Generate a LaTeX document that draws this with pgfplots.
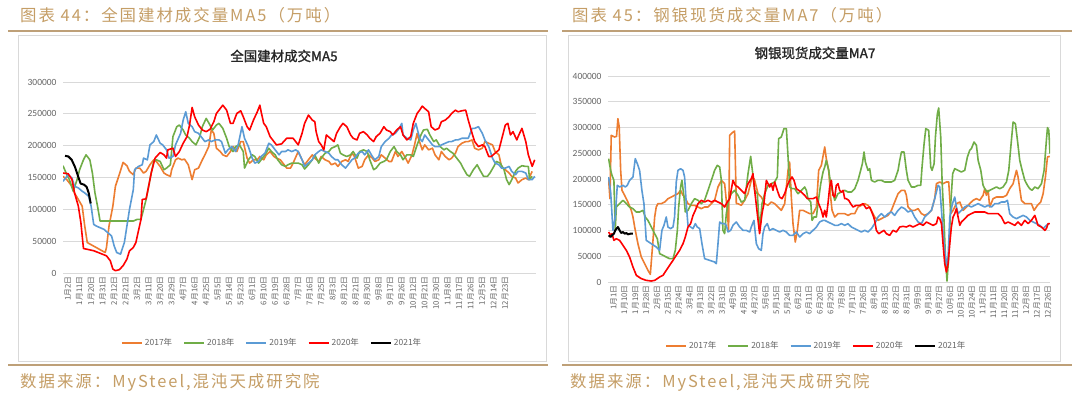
\documentclass[border=0pt]{standalone}
\usepackage{pgfplots}
\pgfplotsset{compat=1.18}
\usepackage{fontspec}
\setmainfont{Carlito}
\newfontfamily\cjk{Noto Sans CJK SC}
\newfontfamily\cjkhdr{Noto Sans CJK SC}[LetterSpace=12]
\newfontfamily\cjkb{Noto Sans CJK SC}[FakeBold=1.5]
\definecolor{c17}{RGB}{237,125,49}
\definecolor{c18}{RGB}{112,173,71}
\definecolor{c19}{RGB}{91,155,213}
\definecolor{c20}{RGB}{255,0,0}
\definecolor{gridc}{RGB}{217,217,217}
\definecolor{tickc}{RGB}{100,100,100}
\definecolor{hdr}{RGB}{197,158,102}
\definecolor{rulec}{RGB}{190,160,120}
\pgfplotsset{
 mychart/.style={
  scale only axis, anchor=south west,
  axis line style={draw=none}, tick style={draw=none},
  ymajorgrids, grid style={gridc, line width=0.9bp},
  xmajorgrids=false,
  scaled y ticks=false,
  /pgf/number format/assume math mode=true,
  y tick label style={font=\fontsize{9.5}{10}\selectfont, text=tickc, /pgf/number format/1000 sep={}, /pgf/number format/fixed, xshift=-3bp},
  x tick label style={font=\cjk\fontsize{7.8}{8}\selectfont, text=tickc, rotate=90, anchor=east, yshift=-5bp},
  every axis plot/.append style={line width=1.6bp, line join=round, mark=none},
  legend style={draw=none, fill=none, font=\cjk\fontsize{8.5}{9}\selectfont, text=tickc, legend columns=5, anchor=center, /tikz/every even column/.append style={column sep=9bp}},
  legend image code/.code={\draw[#1, line width=2bp] (0bp,0bp) -- (20bp,0bp);},
 }
}
\begin{document}
\begin{tikzpicture}
\useasboundingbox (0bp,0bp) rectangle (1080bp,394bp);
\fill[white] (0bp,0bp) rectangle (1080bp,394bp);
% headers
\node[anchor=west, text=hdr, inner sep=0pt, font=\cjkhdr\fontsize{16.5}{17}\selectfont] at (20bp,379bp) {图表 44：全国建材成交量MA5（万吨）};
\node[anchor=west, text=hdr, inner sep=0pt, font=\cjkhdr\fontsize{16.5}{17}\selectfont] at (572bp,379bp) {图表 45：钢银现货成交量MA7（万吨）};
\node[anchor=west, text=hdr, inner sep=0pt, font=\cjkhdr\fontsize{16.5}{17}\selectfont] at (20bp,12bp) {数据来源：MySteel,混沌天成研究院};
\node[anchor=west, text=hdr, inner sep=0pt, font=\cjkhdr\fontsize{16.5}{17}\selectfont] at (570bp,12bp) {数据来源：MySteel,混沌天成研究院};
\draw[rulec, line width=1.2bp] (8bp,363bp) -- (548bp,363bp);
\draw[rulec, line width=1.2bp] (562bp,363bp) -- (1072bp,363bp);
\draw[rulec, line width=1.2bp] (8bp,29bp) -- (548bp,29bp);
\draw[rulec, line width=1.2bp] (562bp,29bp) -- (1072bp,29bp);
\draw[gridc, line width=0.8bp] (18bp,359bp) rectangle (546bp,33bp);
\draw[gridc, line width=0.8bp] (568bp,359bp) rectangle (1060bp,33bp);
\node[font=\cjkb\fontsize{13.5}{14}\selectfont, text={rgb,255:red,38;green,38;blue,38}] at (284bp,338bp) {全国建材成交MA5};
\node[font=\cjkb\fontsize{13.5}{14}\selectfont, text={rgb,255:red,38;green,38;blue,38}] at (815bp,341bp) {钢银现货成交量MA7};

% LEFT CHART
\begin{axis}[mychart, at={(63bp,121bp)}, width=473bp, height=191bp,
 xmin=0, xmax=370, ymin=0, ymax=300000,
 ytick={0,50000,100000,150000,200000,250000,300000},
 xtick={0,9,18,27,36,45,54,63,72,81,90,99,108,117,126,135,144,153,162,171,180,189,198,207,216,225,234,243,252,261,270,279,288,297,306,315,324,333,342},
 xticklabels={1月2日,1月11日,1月20日,1月31日,2月12日,2月21日,3月2日,3月11日,3月20日,3月29日,4月7日,4月16日,4月25日,5月5日,5月14日,5月23日,6月1日,6月10日,6月19日,6月28日,7月7日,7月16日,7月25日,8月3日,8月12日,8月21日,8月30日,9月8日,9月17日,9月26日,10月12日,10月21日,10月30日,11月8日,11月17日,11月26日,12月5日,12月14日,12月23日},
 legend style={at={(0.442,-0.366)}},
]
\addplot[c17] coordinates {(0,151800)(3,146600)(7,136200)(9,125800)(12,115400)(15,105000)(17,73800)(19,47800)(33,32200)(34,40000)(36,73800)(39,105000)(41,136200)(44,154400)(47,173700)(50,168500)(52,159600)(55,154400)(57,164800)(60,164800)(63,157000)(65,159600)(68,170000)(71,177800)(73,175200)(76,167400)(79,157000)(81,154400)(84,151800)(85,162200)(88,177800)(90,180400)(93,177800)(95,178900)(98,170000)(101,146600)(103,162200)(106,164800)(109,177800)(111,185600)(114,198600)(116,224600)(118,219400)(120,196000)(123,190800)(125,185600)(128,183000)(131,190800)(133,198600)(136,190800)(139,206400)(141,206400)(144,180400)(146,172600)(149,177800)(152,177800)(154,183000)(157,177800)(159,185600)(162,190800)(165,183000)(167,180400)(170,177800)(172,172600)(175,164800)(178,164800)(180,172600)(184,190800)(187,177800)(189,170000)(192,177800)(195,185600)(197,180400)(200,175200)(202,183000)(205,177800)(208,175200)(210,170000)(213,172600)(215,167400)(218,175200)(221,177800)(223,175200)(226,188200)(228,183000)(231,164800)(234,167400)(236,177800)(239,185600)(242,180400)(244,175200)(247,177800)(249,185600)(252,180400)(255,175200)(257,175200)(260,190800)(262,183000)(265,190800)(268,180400)(270,172600)(273,185600)(275,201200)(277,219400)(278,211600)(281,193400)(283,201200)(286,193400)(289,196000)(291,185600)(294,177800)(296,190800)(299,183000)(302,177800)(304,180400)(307,188200)(309,198600)(312,203800)(315,206400)(317,206400)(320,209000)(322,196000)(325,193400)(328,196000)(330,206400)(333,203800)(336,201200)(338,190800)(341,185600)(343,167400)(346,162200)(349,157000)(351,151800)(354,149200)(356,141400)(359,146600)(362,149200)(364,146600)(367,159600)};
\addlegendentry{2017年}
\addplot[c18] coordinates {(0,168500)(3,154400)(5,146600)(8,128400)(11,146600)(13,162200)(16,177800)(18,185600)(21,177800)(23,157000)(25,125800)(27,105000)(29,81600)(55,81600)(58,84200)(61,84200)(63,99800)(65,115400)(67,136200)(69,157000)(71,175200)(73,177800)(76,175200)(79,162200)(81,164800)(84,170000)(86,214200)(89,229800)(91,232400)(94,224600)(96,216800)(99,211600)(101,206400)(104,201200)(107,214200)(109,229800)(112,242800)(115,232400)(117,224600)(120,232400)(122,235000)(125,227200)(128,211600)(130,198600)(133,190800)(135,198600)(138,201200)(141,190800)(142,164800)(145,177800)(148,185600)(150,183000)(153,172600)(155,177800)(158,185600)(161,196000)(163,190800)(166,185600)(168,177800)(171,170000)(174,167400)(176,170000)(179,172600)(184,172600)(187,170000)(189,163300)(192,170000)(195,177800)(197,185600)(200,172600)(202,180400)(205,188200)(208,190800)(210,196000)(213,198600)(215,201200)(217,188200)(219,185600)(222,183000)(225,185600)(227,190800)(230,180400)(232,190800)(235,193400)(238,190800)(240,177800)(243,162200)(245,164800)(248,172600)(251,175200)(253,177800)(256,190800)(259,198600)(261,190800)(264,185600)(266,177800)(269,185600)(272,185600)(274,183000)(277,201200)(280,216800)(282,224600)(285,225700)(287,216800)(290,206400)(292,209000)(295,198600)(298,193400)(300,196000)(303,190800)(305,188200)(308,180400)(311,172600)(313,164800)(316,154400)(318,151800)(321,162200)(324,170000)(326,162200)(329,151800)(332,151800)(334,157000)(337,167400)(339,175200)(342,172600)(345,162200)(347,146600)(349,138800)(351,146600)(354,159600)(356,164800)(359,168500)(362,167400)(364,167400)(365,146600)(367,151800)};
\addlegendentry{2018年}
\addplot[c19] coordinates {(0,144000)(2,149200)(4,154400)(7,149200)(9,136200)(12,133600)(15,128400)(17,125800)(20,120600)(22,105000)(24,76400)(26,73800)(32,68600)(38,58200)(40,42600)(42,32200)(45,29600)(48,47800)(50,73800)(52,99800)(55,131000)(56,162200)(59,167400)(62,170000)(63,180400)(66,177800)(68,201200)(71,206400)(73,216800)(76,203800)(78,201200)(81,193400)(83,180400)(86,183000)(88,201200)(92,219400)(94,240200)(96,253200)(98,235000)(101,229800)(103,222000)(106,219400)(109,211600)(111,206400)(114,209000)(116,206400)(119,209000)(122,209000)(124,206400)(127,188200)(129,193400)(132,198600)(135,190800)(137,201200)(140,229800)(142,211600)(145,198600)(148,180400)(150,172600)(153,175200)(155,183000)(158,188200)(161,203800)(163,201200)(166,193400)(169,185600)(171,190800)(174,190800)(176,193400)(179,190800)(182,193400)(184,190800)(187,177800)(189,167400)(192,172600)(195,177800)(197,185600)(200,190800)(202,193400)(205,190800)(208,188200)(210,183000)(213,177800)(215,177800)(218,170000)(221,164800)(223,170000)(226,177800)(228,180400)(231,188200)(234,190800)(236,185600)(239,193400)(242,183000)(244,177800)(247,183000)(249,198600)(252,206400)(255,211600)(257,216800)(260,219400)(263,227200)(265,235000)(266,216800)(269,211600)(272,209000)(274,224600)(276,235000)(279,211600)(281,206400)(283,216800)(286,209000)(289,201200)(291,198600)(294,198600)(296,201200)(299,203800)(302,206400)(304,206400)(307,209000)(309,209000)(312,211600)(315,211600)(317,211600)(320,227200)(322,227200)(325,229800)(328,219400)(330,209000)(333,198600)(336,180400)(338,172600)(341,170000)(343,164800)(346,164800)(349,167400)(351,159600)(354,154400)(356,159600)(359,159600)(362,157000)(364,146600)(367,146600)(369,151800)};
\addlegendentry{2019年}
\addplot[c20] coordinates {(0,157000)(4,156000)(7,147000)(9,126000)(12,105000)(14,79000)(16,38500)(24,35000)(34,27000)(37,19200)(39,6200)(41,3600)(44,5200)(47,11400)(50,21800)(52,34800)(55,40000)(57,47800)(59,66000)(61,84200)(62,115400)(65,116500)(67,136200)(69,157000)(72,180400)(76,189300)(79,185600)(81,180400)(82,193400)(86,196000)(88,183000)(91,190800)(94,203800)(97,214200)(99,232400)(101,260000)(103,245400)(106,232400)(109,224600)(112,222000)(115,225700)(118,237600)(120,250600)(123,258400)(125,263600)(128,255800)(131,235000)(133,235000)(136,250600)(139,254800)(141,245400)(144,229800)(146,224600)(149,240200)(152,253200)(154,263600)(155,253200)(157,235000)(159,229800)(162,214200)(165,206400)(167,201200)(171,202800)(175,211600)(180,211600)(184,201200)(187,219400)(189,235000)(192,248000)(195,240200)(197,237600)(198,222000)(200,206400)(202,201200)(204,193400)(206,216800)(209,211600)(212,206400)(214,219400)(217,229800)(219,235000)(222,229800)(225,216800)(227,211600)(230,209000)(232,219400)(235,222000)(238,216800)(240,211600)(243,206400)(245,214200)(248,219400)(251,229800)(253,224600)(256,222000)(258,216800)(261,224600)(264,229800)(266,216800)(269,209000)(272,214200)(274,235000)(277,250600)(279,255800)(281,262100)(283,258400)(286,253200)(288,229800)(291,224600)(294,227200)(296,237600)(299,240200)(302,245400)(304,250600)(307,255800)(309,253200)(312,254800)(315,255800)(317,240200)(320,219400)(322,206400)(325,198600)(328,201200)(330,198600)(333,183000)(335,183000)(338,188200)(341,193400)(343,209000)(346,232400)(348,235000)(350,216800)(352,222000)(355,209000)(356,214200)(359,227200)(362,206400)(364,185600)(367,167400)(369,177800)};
\addlegendentry{2020年}
\addplot[black, line width=2bp] coordinates {(1.6,184100)(4.2,183000)(6.8,177800)(9.4,166400)(12.0,150800)(13.8,140400)(16.4,138800)(18.5,135200)(20.1,125800)(21.7,109200)};
\addlegendentry{2021年}
\end{axis}

% RIGHT CHART
\begin{axis}[mychart, at={(608bp,112bp)}, width=442bp, height=206bp,
 xmin=-0.5, xmax=366, ymin=0, ymax=400000,
 ytick={0,50000,100000,150000,200000,250000,300000,350000,400000},
 xtick={0,9,18,27,36,45,54,63,72,81,90,99,108,117,126,135,144,153,162,171,180,189,198,207,216,225,234,243,252,261,270,279,288,297,306,315,324,333,342,351,360},
 xticklabels={1月1日,1月10日,1月19日,1月28日,2月6日,2月15日,2月24日,3月4日,3月13日,3月22日,3月31日,4月9日,4月18日,4月27日,5月6日,5月15日,5月24日,6月2日,6月11日,6月20日,6月29日,7月8日,7月17日,7月26日,8月4日,8月13日,8月22日,8月31日,9月9日,9月18日,9月27日,10月6日,10月15日,10月24日,11月2日,11月11日,11月20日,11月29日,12月8日,12月17日,12月26日},
 legend style={at={(0.471,-0.311)}},
]
\addplot[c17] coordinates {(0.0,200600)(1.1,161800)(2.2,284800)(5.0,281500)(6.6,282800)(7.7,317100)(8.8,301000)(10.0,216800)(11.1,178000)(13.3,168300)(16.0,155300)(18.8,139100)(20.2,126200)(21.6,106800)(24.3,74400)(27.1,48500)(29.9,35600)(32.6,22700)(34.6,14900)(36.8,80900)(38.2,126200)(39.5,145600)(40.9,152100)(43.7,152100)(46.5,155300)(49.2,161800)(52.0,165000)(54.7,168300)(57.5,171500)(59.7,178000)(61.7,168300)(63.0,165000)(65.8,152100)(68.6,148900)(71.3,148900)(74.1,145600)(76.9,142400)(79.6,145600)(82.4,145600)(85.2,152100)(87.9,158600)(90.7,184500)(93.5,197400)(96.2,190900)(98.4,139100)(99.5,100300)(100.4,284800)(102.6,290000)(104.5,293200)(105.9,152100)(107.3,152100)(110.0,148900)(112.8,158600)(115.6,171500)(118.3,197400)(119.7,203900)(121.1,197400)(123.9,171500)(126.6,165000)(129.4,152100)(132.2,148900)(134.9,155300)(137.7,152100)(140.5,145600)(143.2,139100)(146.0,152100)(147.4,184500)(148.8,216800)(150.1,233000)(151.5,165000)(152.9,113300)(154.8,77700)(156.5,100300)(158.4,139100)(161.2,139100)(164.0,135900)(166.7,132700)(169.5,132700)(172.3,145600)(174.2,216800)(176.4,226500)(179.2,262100)(180.5,239500)(182.5,216800)(184.1,165000)(185.3,139100)(187.5,126200)(190.2,132700)(193.0,132700)(195.8,132700)(198.5,129400)(201.3,132700)(204.1,132700)(206.8,145600)(209.6,148900)(212.4,152100)(215.1,148900)(217.9,139100)(220.6,126200)(223.4,119700)(226.2,123000)(228.9,126200)(231.7,129400)(234.5,139100)(237.2,155300)(240.0,171500)(242.8,178000)(245.5,178000)(246.9,168300)(248.3,145600)(251.1,139100)(253.8,139100)(256.6,142400)(259.4,132700)(262.1,129400)(264.9,132700)(267.7,139100)(270.4,161800)(271.8,190900)(274.6,194200)(277.3,190900)(280.1,194200)(282.0,194200)(283.7,132700)(285.6,139100)(288.4,152100)(291.2,155300)(293.9,139100)(296.7,145600)(299.4,152100)(302.2,158600)(305.0,161800)(307.7,158600)(310.5,168300)(311.9,181200)(313.3,168300)(314.7,178000)(316.0,145600)(318.8,161800)(321.6,165000)(324.3,165000)(327.1,165000)(329.9,168300)(332.6,181200)(335.4,190900)(338.2,216800)(339.5,203900)(342.3,158600)(345.1,152100)(347.8,152100)(350.6,152100)(352.8,139100)(355.6,148900)(358.3,155300)(360.3,171500)(362.2,203900)(363.9,242700)(365.8,244000)};
\addlegendentry{2017年}
\addplot[c18] coordinates {(0.0,239500)(1.7,216800)(2.8,207100)(4.4,197400)(5.5,100300)(6.4,145600)(9.1,152100)(11.9,158600)(14.7,152100)(17.4,145600)(20.2,142400)(23.0,135900)(25.7,135900)(28.5,139100)(30.4,126200)(32.6,119700)(35.4,106800)(38.2,93800)(40.4,84100)(42.3,55000)(45.1,51800)(47.8,48500)(50.6,45300)(53.4,45300)(55.3,61500)(57.0,100300)(58.1,145600)(59.7,184500)(60.8,197400)(62.5,165000)(63.6,135900)(65.8,139100)(68.6,152100)(71.3,161800)(74.1,158600)(76.9,152100)(79.6,158600)(82.4,178000)(85.2,197400)(87.9,216800)(90.1,226500)(92.1,223300)(93.5,197400)(94.8,100300)(96.2,93800)(97.6,132700)(99.5,158600)(101.7,171500)(104.5,178000)(107.3,168300)(110.0,155300)(112.8,158600)(115.6,210300)(117.8,244000)(119.2,216800)(121.1,178000)(123.3,171500)(125.2,100300)(127.2,152100)(129.4,171500)(132.2,187700)(134.9,190900)(137.7,194200)(139.9,203900)(141.0,278300)(143.2,281500)(145.4,297700)(147.4,297700)(148.8,242700)(150.1,184500)(152.1,181200)(154.3,181200)(157.0,171500)(159.8,178000)(162.6,184500)(164.0,178000)(165.3,161800)(167.6,155300)(168.7,119700)(170.3,126200)(172.3,126200)(173.6,152100)(175.9,190900)(177.8,213600)(179.2,223300)(180.5,236200)(182.5,216800)(184.1,190900)(186.1,171500)(187.5,158600)(190.2,171500)(193.0,174700)(195.8,178000)(198.5,174700)(201.3,174700)(204.1,181200)(206.8,197400)(209.0,216800)(210.4,229800)(211.8,252400)(212.9,233000)(215.1,216800)(216.5,220000)(217.9,197400)(220.6,194200)(223.4,197400)(226.2,197400)(228.9,194200)(231.7,194200)(234.5,194200)(237.2,197400)(240.0,216800)(241.4,236200)(242.8,252400)(245.0,252400)(246.9,216800)(248.3,197400)(251.1,184500)(253.8,184500)(256.6,187700)(258.8,187700)(259.9,223300)(261.6,268600)(263.0,297700)(265.4,294500)(267.1,223300)(268.2,216800)(269.9,229800)(271.0,281500)(272.6,326800)(273.7,337800)(275.4,281500)(276.5,197400)(278.1,119700)(279.3,48500)(280.6,1900)(282.0,48500)(283.7,152100)(285.3,210300)(287.0,220000)(289.8,216800)(292.5,213600)(295.3,216800)(297.5,242700)(299.4,255600)(300.8,258900)(303.0,271800)(305.0,265400)(306.4,236200)(308.6,216800)(310.5,187700)(311.9,181200)(314.1,174700)(316.0,178000)(318.8,181200)(321.6,184500)(324.3,181200)(327.1,184500)(329.9,194200)(331.8,216800)(333.5,262100)(335.4,310700)(337.3,307400)(339.0,275100)(340.9,236200)(342.9,216800)(345.1,197400)(347.3,187700)(349.2,181200)(351.1,178000)(353.4,184500)(356.1,181200)(358.9,190900)(361.1,216800)(363.0,275100)(363.9,299700)(365.0,294500)(366.0,249200)};
\addlegendentry{2018年}
\addplot[c19] coordinates {(0.0,203900)(1.7,174700)(3.6,100300)(5.5,126200)(7.2,187700)(9.1,184500)(11.9,187700)(13.8,184500)(15.5,187700)(17.4,197400)(20.2,203900)(22.1,239500)(23.8,229800)(25.7,216800)(27.6,178000)(29.3,152100)(31.2,80900)(35.4,74400)(39.5,68000)(42.3,61500)(44.2,100300)(45.9,110000)(47.8,126200)(49.2,106800)(51.4,103600)(53.4,106800)(54.7,126200)(56.1,194200)(57.5,216800)(59.7,220000)(61.7,216800)(63.0,203900)(64.4,152100)(65.8,110000)(68.0,106800)(70.0,103600)(71.9,113300)(73.5,106800)(75.5,103600)(77.4,74400)(79.6,45300)(83.8,42100)(87.9,38800)(89.3,35600)(90.7,74400)(92.1,116500)(94.0,113300)(96.2,113300)(97.6,110000)(99.0,97100)(101.2,100300)(103.1,110000)(105.9,116500)(108.7,106800)(111.4,100300)(114.2,100300)(117.0,97100)(118.3,106800)(120.5,119700)(122.5,74400)(124.4,64700)(126.6,61500)(128.0,93800)(129.4,106800)(131.6,113300)(133.5,100300)(136.3,103600)(139.1,100300)(141.8,97100)(144.6,100300)(147.4,97100)(150.1,90600)(152.9,90600)(155.7,97100)(158.4,87400)(161.2,93800)(164.0,97100)(166.7,93800)(169.5,100300)(172.3,106800)(175.0,116500)(177.8,119700)(179.2,119700)(181.9,116500)(184.7,113300)(187.5,110000)(190.2,110000)(193.0,113300)(195.8,110000)(198.5,113300)(201.3,106800)(204.1,103600)(206.8,100300)(209.6,97100)(212.4,100300)(215.1,97100)(217.9,103600)(220.6,113300)(223.4,126200)(226.2,132700)(228.9,126200)(231.7,132700)(234.5,135900)(237.2,129400)(240.0,139100)(242.8,145600)(245.5,142400)(248.3,135900)(251.1,139100)(253.8,126200)(256.6,116500)(259.4,113300)(262.1,126200)(264.9,132700)(267.7,139100)(270.4,161800)(273.2,187700)(274.6,184500)(276.0,139100)(277.9,80900)(280.1,32400)(281.5,48500)(282.9,126200)(285.1,152100)(287.0,165000)(288.4,145600)(289.8,132700)(292.5,139100)(295.3,145600)(298.0,148900)(300.8,145600)(303.6,148900)(306.4,152100)(309.1,148900)(311.9,145600)(314.7,148900)(317.4,145600)(320.2,152100)(323.0,152100)(325.7,155300)(328.5,155300)(330.7,158600)(332.6,132700)(335.4,126200)(338.2,123000)(340.9,126200)(343.7,129400)(346.5,126200)(349.2,119700)(352.0,116500)(354.8,113300)(357.5,110000)(360.3,103600)(363.0,110000)(365.0,113300)};
\addlegendentry{2019年}
\addplot[c20] coordinates {(0.0,97100)(1.7,90600)(2.8,93800)(4.4,80900)(6.4,84100)(9.1,80900)(11.9,71200)(14.7,61500)(17.4,48500)(20.2,29100)(23.0,12900)(27.1,6500)(31.2,3200)(35.4,1900)(38.2,3200)(40.4,6500)(42.3,9700)(45.1,12900)(47.8,22700)(50.6,32400)(53.4,42100)(56.1,51800)(58.9,61500)(61.7,74400)(63.6,87400)(65.8,106800)(68.0,113300)(70.0,129400)(71.9,139100)(74.1,152100)(76.9,158600)(79.6,155300)(82.4,158600)(85.2,155300)(87.9,158600)(90.7,155300)(93.5,152100)(96.2,145600)(98.4,155300)(100.4,161800)(103.1,197400)(105.1,187700)(107.3,184500)(110.0,178000)(112.8,171500)(115.6,190900)(118.3,200600)(119.7,210300)(121.1,178000)(123.3,132700)(125.2,93800)(127.2,132700)(128.8,152100)(130.8,197400)(132.2,190900)(133.5,184500)(134.9,190900)(136.3,178000)(137.7,194200)(139.9,178000)(141.8,165000)(143.8,161800)(146.0,171500)(148.2,187700)(150.1,197400)(152.1,203900)(153.7,197400)(155.7,181200)(157.6,178000)(159.8,174700)(162.6,168300)(164.8,161800)(166.7,161800)(169.5,161800)(172.3,165000)(174.2,152100)(176.4,139100)(177.8,126200)(179.2,139100)(180.5,126200)(181.9,152100)(183.3,184500)(184.7,197400)(186.1,168300)(187.5,165000)(188.8,187700)(190.2,190900)(191.6,178000)(193.0,174700)(194.4,178000)(195.8,161800)(197.1,161800)(199.1,158600)(200.7,152100)(202.7,145600)(205.4,148900)(208.2,148900)(211.0,152100)(213.7,142400)(216.5,145600)(219.3,129400)(220.6,119700)(222.0,100300)(224.0,93800)(226.2,97100)(228.4,100300)(230.3,93800)(233.1,90600)(235.8,100300)(238.6,97100)(241.4,106800)(244.1,108100)(246.9,106800)(249.7,110000)(252.4,106800)(255.2,110000)(258.0,113300)(260.7,110000)(263.5,116500)(266.3,113300)(269.0,110000)(271.8,113300)(273.2,126200)(274.6,123000)(276.0,113300)(277.3,74400)(278.7,35600)(280.1,19400)(281.5,35600)(282.9,74400)(284.2,106800)(285.6,126200)(287.0,132700)(288.4,142400)(289.8,126200)(291.2,110000)(292.5,116500)(295.3,123000)(298.0,129400)(300.8,132700)(303.6,135900)(306.4,135900)(309.1,135900)(311.9,135900)(314.7,132700)(317.4,132700)(320.2,132700)(323.0,132700)(325.7,126200)(328.5,113300)(331.3,116500)(334.0,113300)(336.8,110000)(339.5,116500)(342.3,110000)(345.1,119700)(347.8,113300)(350.6,119700)(353.4,129400)(356.1,110000)(358.9,106800)(361.7,100300)(363.0,103600)(364.4,113300)(365.8,113300)};
\addlegendentry{2020年}
\addplot[black, line width=2bp] coordinates {(0.0,90600)(1.7,87400)(2.8,90600)(4.4,93800)(5.5,100300)(6.6,103600)(7.7,106800)(9.1,100300)(10.5,95100)(11.9,97100)(13.3,93800)(14.7,95100)(16.0,92500)(18.2,93800)(20.2,93800)};
\addlegendentry{2021年}
\end{axis}
\end{tikzpicture}
\end{document}
